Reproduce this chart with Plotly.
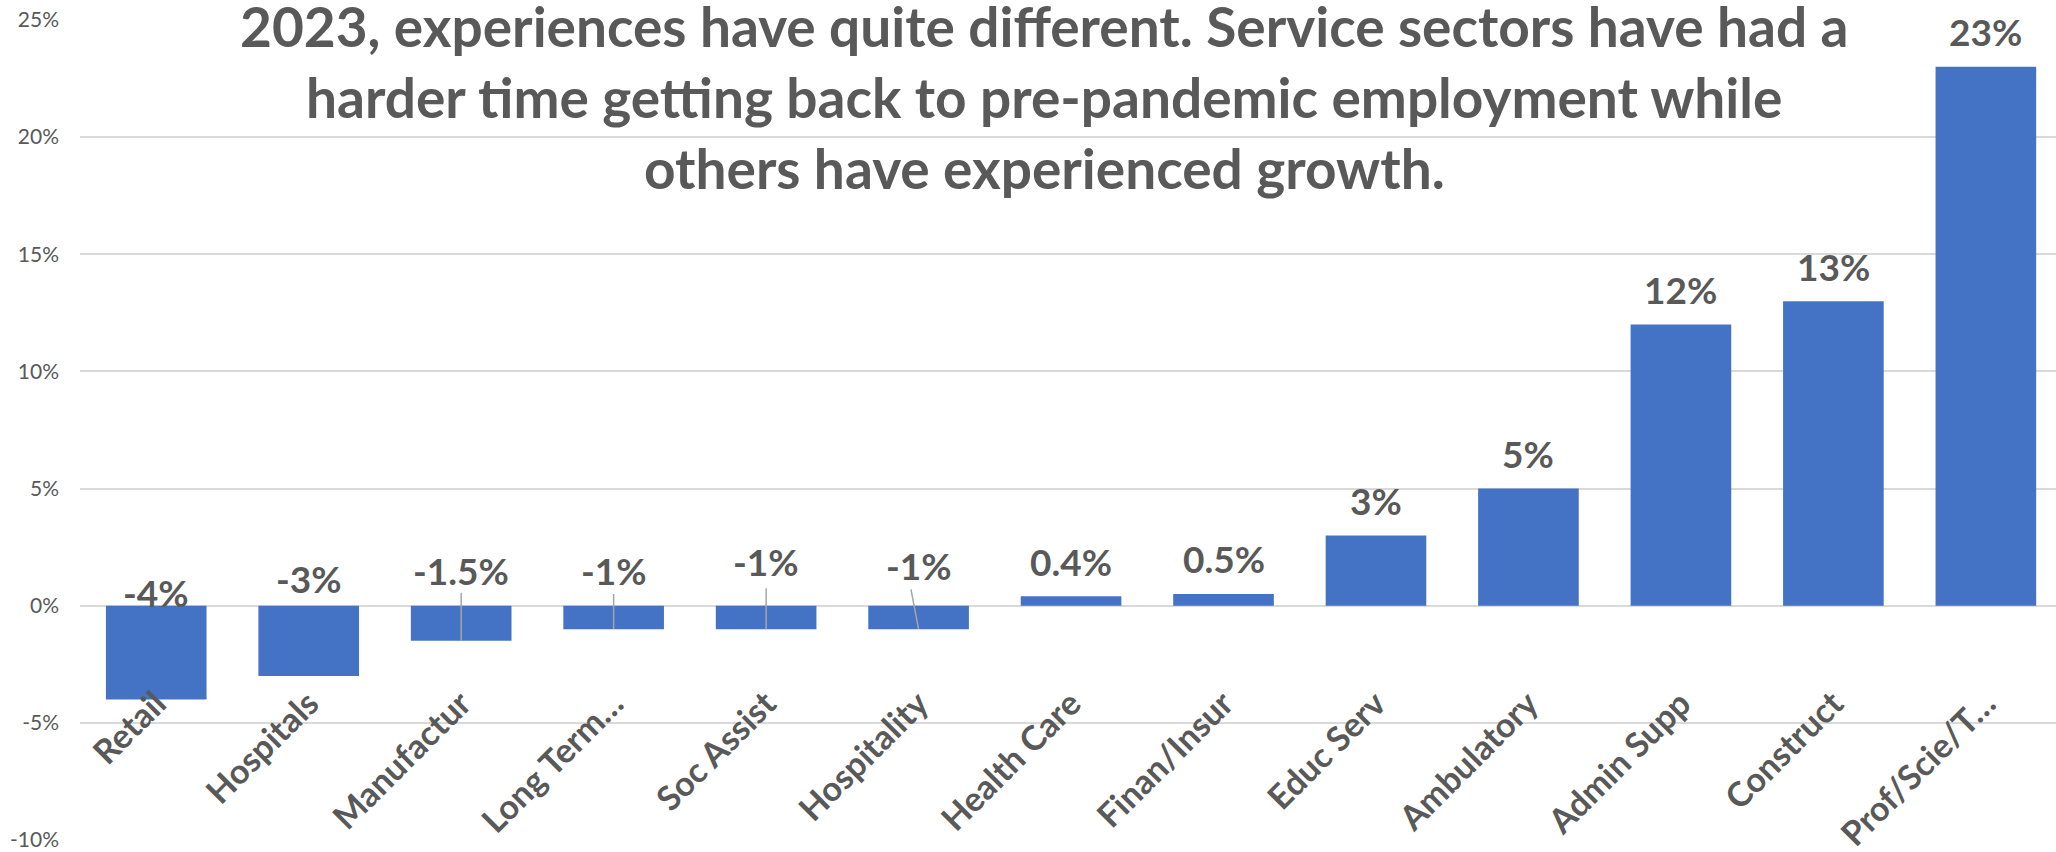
import plotly.graph_objects as go

# Employment change by sector, 2019 -> 2023
sectors = ["Retail", "Hospitals", "Manufactur", "Long Term…", "Soc Assist",
           "Hospitality", "Health Care", "Finan/Insur", "Educ Serv",
           "Ambulatory", "Admin Supp", "Construct", "Prof/Scie/T…"]
change_pct = [-4, -3, -1.5, -1, -1, -1, 0.4, 0.5, 3, 5, 12, 13, 23]
value_labels = ["-4%", "-3%", "-1.5%", "-1%", "-1%", "-1%", "0.4%", "0.5%",
                "3%", "5%", "12%", "13%", "23%"]
y_ticks = [-10, -5, 0, 5, 10, 15, 20, 25]
y_tick_text = ["-10%", "-5%", "0%", "5%", "10%", "15%", "20%", "25%"]

title_lines = [
    "2023, experiences have quite different. Service sectors have had a",
    "harder time getting back to pre-pandemic employment while",
    "others have experienced growth.",
]

FONT = "Lato"
GREY = "#595959"
BLUE = "#4472C4"

# labels of the negative bars sit above the zero line, hand placed
neg_label_y = {0: 0.55, 1: 1.15, 2: 1.5, 3: 1.5, 4: 1.9, 5: 1.7}
# leader lines joining a label to its small bar: (index, top, x shift at top)
leaders = [(2, 0.55, 0.0), (3, 0.5, 0.0), (4, 0.75, 0.0), (5, 0.7, -0.05)]

# category labels hang from this level, overlapping the bars
Y_MIN, Y_MAX = -10, 25
LABEL_LEVEL = -3.0

W, H = 2056, 852
ML, MR, MT, MB = 80, 0, 20, 12
pw, ph = W - ML - MR, H - MT - MB

idx = list(range(len(sectors)))

fig = go.Figure()
fig.add_trace(go.Bar(
    x=idx, y=change_pct,
    marker=dict(color=BLUE, line=dict(width=0)),
    hoverinfo="skip",
))

annotations = []
for i, (v, t) in enumerate(zip(change_pct, value_labels)):
    y = neg_label_y.get(i, v + 1.5)
    annotations.append(dict(
        x=i, y=y, xref="x", yref="y", text=t, showarrow=False,
        xanchor="center", yanchor="middle",
        font=dict(family=FONT, size=37, color=GREY, weight="bold"),
    ))
for k, line in enumerate(title_lines):
    # title rows given in pixels from the top of the page
    py = 26 + 71 * k
    annotations.append(dict(
        x=(1044 - ML) / pw, y=1 - (py - MT) / ph, xref="paper", yref="paper",
        text=line, showarrow=False, borderpad=0,
        xanchor="center", yanchor="middle",
        font=dict(family=FONT, size=55, color=GREY, weight="bold"),
    ))

shapes = []
for i, top, dx in leaders:
    shapes.append(dict(
        type="line", xref="x", yref="y", x0=i + dx, y0=top, x1=i,
        y1=change_pct[i], line=dict(color="#a6a6a6", width=1.5),
    ))

fig.update_layout(
    width=W, height=H,
    margin=dict(l=ML, r=MR, t=MT, b=MB, autoexpand=False),
    plot_bgcolor="white", paper_bgcolor="white",
    showlegend=False, bargap=0.34,
    annotations=annotations, shapes=shapes,
    xaxis=dict(range=[-0.5, 12.46], tickvals=idx, ticktext=sectors,
               tickangle=-45, anchor="free", automargin=False,
               position=(LABEL_LEVEL - Y_MIN) / (Y_MAX - Y_MIN),
               showgrid=False, zeroline=False, showline=False, ticks="",
               tickfont=dict(family=FONT, size=34, color=GREY, weight="bold")),
    yaxis=dict(range=[Y_MIN, Y_MAX], tickvals=y_ticks, ticktext=y_tick_text,
               automargin=False,
               showgrid=True, gridcolor="#d9d9d9", gridwidth=2,
               zeroline=True, zerolinecolor="#d9d9d9", zerolinewidth=2,
               showline=False, ticks="", ticklabelstandoff=20,
               tickfont=dict(family=FONT, size=21, color=GREY)),
)

fig.write_html("out.html")
